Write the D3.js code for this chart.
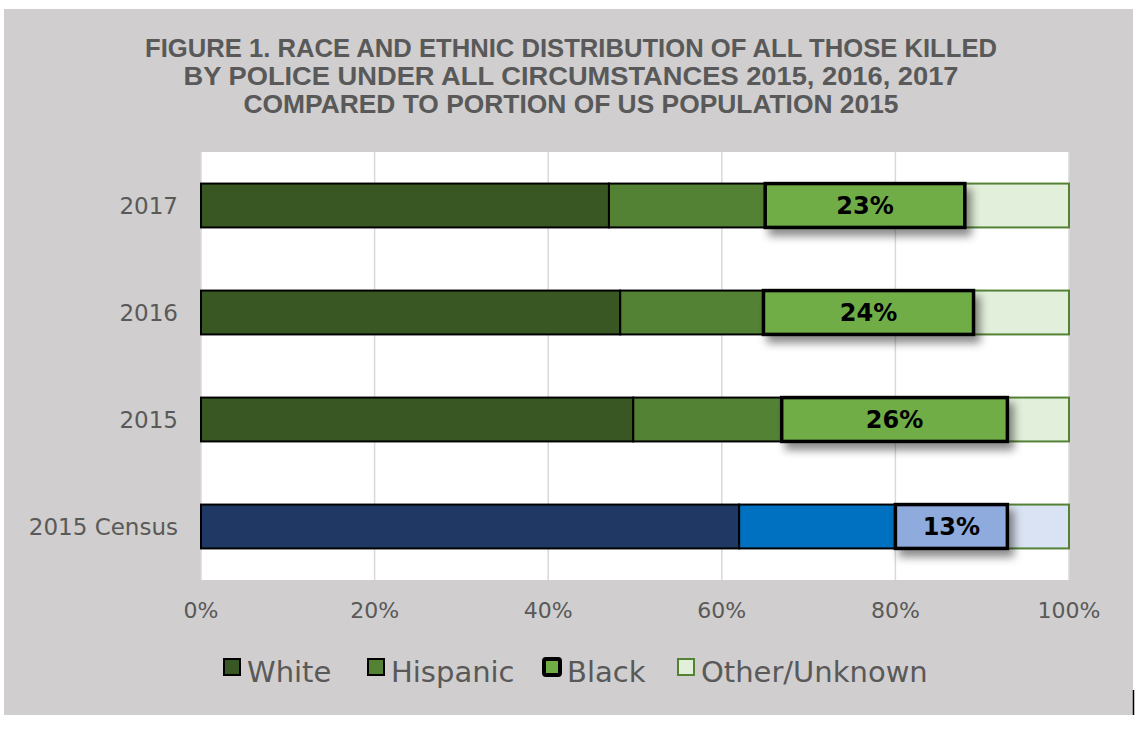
<!DOCTYPE html>
<html>
<head>
<meta charset="utf-8">
<script src="https://cdn.jsdelivr.net/npm/d3@7"></script>
<style>
  body { margin: 0; background: #fff; }
  text { font-family: "DejaVu Sans", sans-serif; }
</style>
</head>
<body>
<svg id="chart" width="1145" height="731"></svg>
<script>
// data (percent of each row)
const categories = ["2017", "2016", "2015", "2015 Census"];
const white    = [47.0, 48.3, 49.8, 62.0];
const hispanic = [18.0, 16.5, 17.1, 18.0];
const black    = [23.0, 24.2, 26.0, 12.9];
const other    = [12.0, 11.0, 7.1, 7.1];
const blackLabels = ["23%", "24%", "26%", "13%"];
const seriesNames = ["White", "Hispanic", "Black", "Other/Unknown"];
const xTicks = [0, 20, 40, 60, 80, 100];
const titleLines = [
  "FIGURE 1. RACE AND ETHNIC DISTRIBUTION OF ALL THOSE KILLED",
  "BY POLICE UNDER ALL CIRCUMSTANCES 2015, 2016, 2017",
  "COMPARED TO PORTION OF US POPULATION 2015"
];

const greens = ["#385723", "#548235", "#70ad47", "#e2efda"],
      blues  = ["#203864", "#0070c0", "#8faadc", "#dae3f3"],
      textCol = "#595959";

const svg = d3.select("#chart");

// gray frame
svg.append("rect").attr("x", 4).attr("y", 9).attr("width", 1129).attr("height", 706).attr("fill", "#d0cece");
svg.append("line").attr("x1", 1133.5).attr("x2", 1133.5).attr("y1", 690).attr("y2", 715)
   .attr("stroke", "#000").attr("stroke-width", 1.5);

const defs = svg.append("defs");
defs.append("filter").attr("id", "shadow").attr("x", "-10%").attr("y", "-30%").attr("width", "130%").attr("height", "190%")
    .append("feDropShadow").attr("dx", 5).attr("dy", 7).attr("stdDeviation", 4)
    .attr("flood-color", "#000").attr("flood-opacity", 0.45);

// title
svg.append("g").selectAll("text").data(titleLines).enter().append("text")
   .attr("x", 571).attr("y", (d, i) => 57 + i * 28)
   .attr("text-anchor", "middle")
   .attr("textLength", (d, i) => [852, 775, 655][i]).attr("lengthAdjust", "spacingAndGlyphs")
   .style("font-family", "'Liberation Sans Narrow', 'Arial Narrow', sans-serif")
   .style("font-weight", "bold").style("font-size", "26px")
   .attr("fill", textCol).text(d => d);

const pLeft = 201, pRight = 1069, pTop = 152, pBottom = 580;

const x = d3.scaleLinear().domain([0, 100]).range([pLeft, pRight]);
const y = d3.scaleBand().domain(categories).range([pTop, pBottom]).paddingInner(0.59).paddingOuter(0.295);

svg.append("rect").attr("x", pLeft).attr("y", pTop).attr("width", pRight - pLeft).attr("height", pBottom - pTop).attr("fill", "#fff");

// gridlines
svg.append("g").selectAll("line").data(xTicks).enter().append("line")
   .attr("x1", d => x(d)).attr("x2", d => x(d)).attr("y1", pTop).attr("y2", pBottom)
   .attr("stroke", "#d9d9d9").attr("stroke-width", 1.5);

// x tick labels
svg.append("g").selectAll("text").data(xTicks).enter().append("text")
   .attr("x", d => x(d)).attr("y", 618).attr("text-anchor", "middle")
   .style("font-size", "22px").attr("fill", textCol).text(d => d + "%");

// y labels
svg.append("g").selectAll("text").data(categories).enter().append("text")
   .attr("x", 178).attr("y", d => y(d) + y.bandwidth() / 2 + 8).attr("text-anchor", "end")
   .style("font-size", "23px").attr("fill", textCol).text(d => d);

// stacked rows
const rows = categories.map((c, i) => {
  const vals = [white[i], hispanic[i], black[i], other[i]];
  let acc = 0;
  return { cat: c, pal: c.indexOf("Census") >= 0 ? blues : greens, label: blackLabels[i],
           segs: vals.map((v, k) => { const s = { k: k, x0: acc, x1: acc + v }; acc += v; return s; }) };
});

const rowG = svg.append("g").selectAll("g").data(rows).enter().append("g")
   .attr("transform", d => `translate(0,${y(d.cat)})`);

rowG.each(function (r) {
  const g = d3.select(this);
  g.selectAll("rect.seg").data(r.segs.filter(s => s.k !== 2)).enter().append("rect")
   .attr("class", "seg")
   .attr("x", s => x(s.x0)).attr("width", s => x(s.x1) - x(s.x0))
   .attr("y", 0).attr("height", y.bandwidth())
   .attr("fill", s => r.pal[s.k])
   .attr("stroke", s => s.k === 3 ? "#548235" : "#000")
   .attr("stroke-width", 2);
  const b = r.segs[2];
  g.append("rect")
   .attr("x", x(b.x0)).attr("width", x(b.x1) - x(b.x0))
   .attr("y", 0).attr("height", y.bandwidth())
   .attr("fill", r.pal[2]).attr("stroke", "#000").attr("stroke-width", 3.5)
   .attr("filter", "url(#shadow)");
  g.append("text")
   .attr("x", (x(b.x0) + x(b.x1)) / 2).attr("y", y.bandwidth() / 2 + 8.5)
   .attr("text-anchor", "middle").style("font-size", "24px").style("font-weight", "bold")
   .attr("fill", "#000").text(r.label);
});

// legend
const legX = [223, 367, 543, 677];
const leg = svg.append("g").selectAll("g").data(seriesNames).enter().append("g")
   .attr("transform", (d, i) => `translate(${legX[i]},0)`);
leg.append("rect")
   .attr("x", 1).attr("y", 659).attr("width", 16).attr("height", 16)
   .attr("rx", (d, i) => i === 2 ? 2 : 0)
   .attr("fill", (d, i) => greens[i])
   .attr("stroke", (d, i) => i === 3 ? "#548235" : "#000")
   .attr("stroke-width", (d, i) => i === 2 ? 4 : 2);
leg.append("text").attr("x", 24).attr("y", 682)
   .style("font-size", "29px").attr("fill", textCol).text(d => d);
</script>
</body>
</html>
